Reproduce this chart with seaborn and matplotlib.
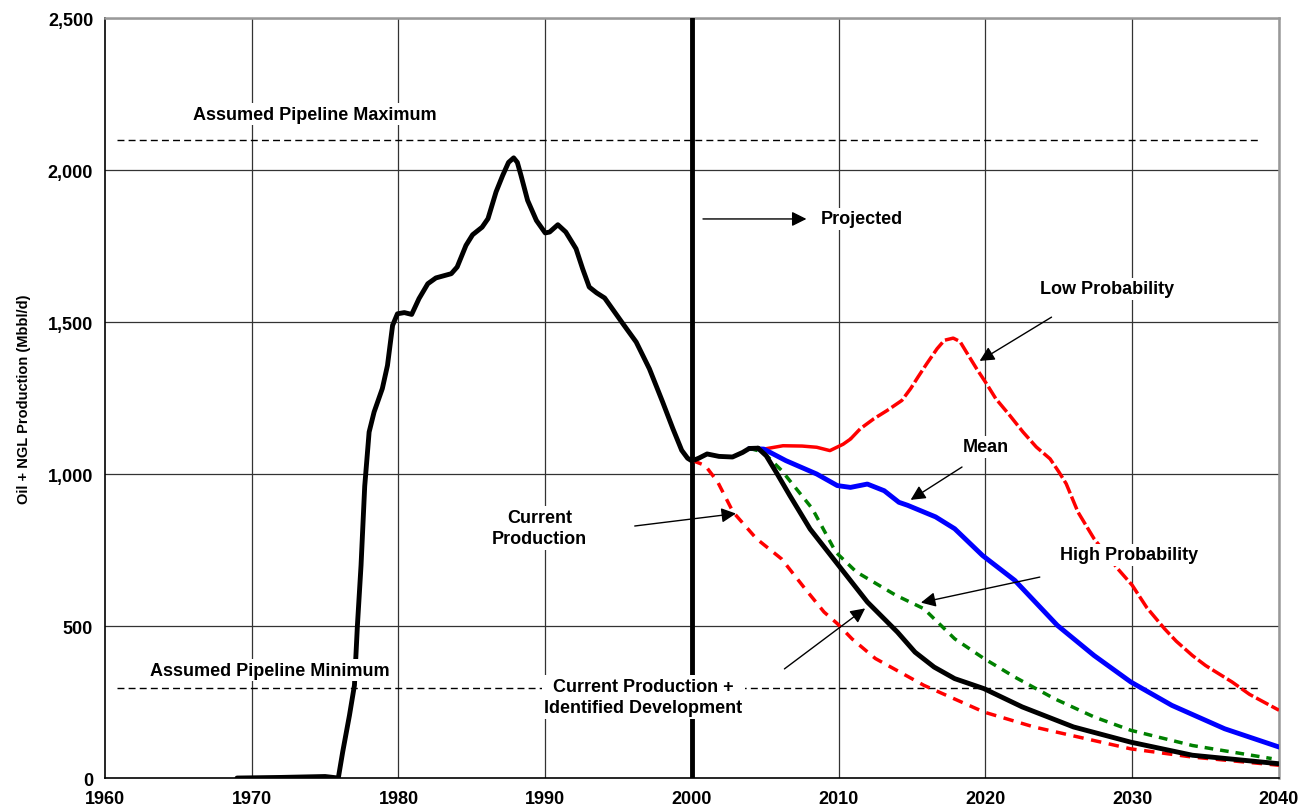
import numpy as np
import pandas as pd
import matplotlib
matplotlib.use("Agg")
import matplotlib.pyplot as plt
import seaborn as sns
from matplotlib.ticker import MultipleLocator, StrMethodFormatter

# ── data ──────────────────────────────────────────────────────────────────
hist_year = [1969, 1972, 1975, 1975.9, 1976.2, 1976.66, 1977.0, 1977.2, 1977.45, 1977.7,
             1978.0, 1978.34, 1978.9, 1979.25, 1979.6, 1979.93, 1980.4, 1980.9, 1981.4,
             1982.0, 1982.55, 1983.6, 1984.0, 1984.6, 1985.05, 1985.7, 1986.1, 1986.65,
             1987.1, 1987.5, 1987.85, 1988.1, 1988.35, 1988.8, 1989.4, 1990.0, 1990.3, 1990.86,
             1991.4, 1992.1, 1992.55, 1993.0, 1993.5, 1994.05, 1995.3, 1996.2, 1997.1,
             1998.0, 1998.7, 1999.3, 1999.7, 2000.0, 2000.46, 2001.03, 2001.84, 2002.76, 2003.45,
             2003.9, 2004.5]
hist_prod = [0, 2, 5, 0, 86, 206, 305, 500, 700, 960,
             1138, 1204, 1281, 1357, 1489, 1527, 1531, 1525, 1577,
             1626, 1645, 1659, 1681, 1752, 1787, 1812, 1840, 1928,
             1982, 2025, 2040, 2025, 1982, 1900, 1834, 1793, 1796, 1820,
             1796, 1741, 1675, 1615, 1596, 1579, 1494, 1434, 1346,
             1237, 1149, 1078, 1052, 1043, 1052, 1066, 1058, 1056, 1071,
             1084, 1085]

# current production + identified development (black)
dev_year = [2004.5, 2005.06, 2005.75, 2006.67, 2008.05, 2009.9, 2011.95, 2014.0, 2015.2,
            2016.5, 2017.9, 2019.9, 2022.5, 2026.0, 2029.9, 2034.1, 2040]
dev_prod = [1085, 1060, 1005, 929, 819, 705, 579, 480, 414,
            365, 327, 294, 234, 168, 118, 75, 47]

# mean (blue)
mean_year = [2003.9, 2004.9, 2006.4, 2008.5, 2009.9, 2010.8, 2011.95, 2013.1, 2014.1,
             2014.7, 2016.6, 2017.9, 2019.8, 2022.0, 2024.9, 2027.4, 2029.9, 2032.7,
             2036.3, 2040]
mean_prod = [1084, 1082, 1044, 1000, 962, 956, 967, 945, 907,
             897, 859, 820, 732, 650, 502, 403, 316, 239,
             162, 102]

# high probability (green dashed)
high_year = [2003.9, 2004.85, 2006.1, 2007.1, 2008.2, 2009.8, 2011.2, 2013.9, 2015.8,
             2017.9, 2019.9, 2022.0, 2024.7, 2027.4, 2029.9, 2034.1, 2039.5]
high_prod = [1085, 1072, 1012, 952, 886, 743, 678, 601, 557,
             458, 393, 332, 261, 201, 157, 107, 64]

# low probability (red)
low_year = [2004.9, 2006.2, 2007.5, 2008.5, 2009.4, 2010.3, 2010.8, 2011.47, 2012.4,
            2013.3, 2014.3, 2014.9, 2015.4, 2016.0, 2016.7, 2017.2, 2017.8, 2018.26,
            2018.7, 2019.4, 2020.07, 2020.7, 2021.65, 2022.56, 2023.46, 2024.4, 2025.0,
            2025.5, 2026.3, 2027.4, 2029.0, 2030.0, 2031.0, 2032.2, 2033.0, 2034.1,
            2035.0, 2036.8, 2038.0, 2040]
low_prod = [1082, 1093, 1092, 1088, 1077, 1098, 1115, 1149, 1182,
            1209, 1242, 1281, 1319, 1363, 1412, 1440, 1447, 1436,
            1401, 1346, 1297, 1248, 1193, 1138, 1089, 1050, 1007,
            968, 875, 787, 689, 634, 560, 491, 450, 403,
            370, 316, 275, 223]

# current production decline (red dashed)
cur_year = [2000, 2000.9, 2001.75, 2002.8, 2004.4, 2006.1, 2007.7, 2009.0, 2009.9,
            2010.9, 2012.5, 2015.8, 2019.9, 2023.3, 2029.9, 2034.1, 2040]
cur_prod = [1045, 1028, 974, 875, 787, 721, 623, 546, 508,
            458, 393, 305, 217, 168, 96, 69, 42]

pipeline_max = 2100
pipeline_min = 295
year_projected = 2000

# ── figure ────────────────────────────────────────────────────────────────
sns.set_style("white")
plt.rcParams["font.family"] = ["Liberation Sans", "DejaVu Sans"]
plt.rcParams["font.weight"] = "bold"
for key in ["text.color", "axes.labelcolor", "xtick.color", "ytick.color"]:
    plt.rcParams[key] = "black"
plt.rcParams["lines.solid_joinstyle"] = "round"
plt.rcParams["lines.solid_capstyle"] = "round"
plt.rcParams["lines.dash_joinstyle"] = "round"

fig = plt.figure(figsize=(12.99, 8.12), dpi=100)
ax = fig.add_axes([0.0808, 0.0406, 0.9038, 0.936])

grid_kw = dict(color="#333333", lw=0.9, zorder=0)
for yv in range(500, 2501, 500):
    ax.axhline(yv, **grid_kw)
for xv in range(1970, 2041, 10):
    ax.axvline(xv, **grid_kw)

# pipeline limits
ax.plot([1960.8, 2038.7], [pipeline_max] * 2, color="black", lw=1, ls=(0, (5, 3)), zorder=2)
ax.plot([1960.8, 2038.7], [pipeline_min] * 2, color="black", lw=1, ls=(0, (5, 3)), zorder=2)

# projection boundary
ax.plot([year_projected] * 2, [0, 2500], color="black", lw=3.5, zorder=3)

sns.lineplot(x=cur_year, y=cur_prod, color="red", lw=2.5, ax=ax, zorder=4,
             linestyle=(0, (3, 2.2)))
n_solid = low_year.index(2010.8) + 1
sns.lineplot(x=low_year[:n_solid], y=low_prod[:n_solid], color="red", lw=2.5, ax=ax, zorder=4)
sns.lineplot(x=low_year[n_solid - 1:], y=low_prod[n_solid - 1:], color="red", lw=2.5, ax=ax,
             zorder=4, linestyle=(0, (4, 1)))
sns.lineplot(x=mean_year, y=mean_prod, color="blue", lw=3.5, ax=ax, zorder=5)
sns.lineplot(x=high_year, y=high_prod, color="green", lw=2.5, ax=ax, zorder=6,
             linestyle=(0, (2.5, 2)))
sns.lineplot(x=dev_year, y=dev_prod, color="black", lw=3.5, ax=ax, zorder=7)
sns.lineplot(x=hist_year, y=hist_prod, color="black", lw=3.5, ax=ax, zorder=7)

# ── annotations ───────────────────────────────────────────────────────────
box = dict(facecolor="white", edgecolor="none", pad=2)
txt_kw = dict(fontsize=13, fontweight="bold", ha="center", va="center", bbox=box, zorder=8,
              linespacing=1.35, color="black")
arrow = dict(arrowstyle="-|>", color="black", lw=1, mutation_scale=22, shrinkA=0, shrinkB=0)

ax.text(1974.3, 2184, "Assumed Pipeline Maximum", **txt_kw)
ax.text(1971.2, 355, "Assumed Pipeline Minimum", **txt_kw)
ax.text(2011.6, 1839, "Projected", **txt_kw)
ax.annotate("", xy=(2007.8, 1839), xytext=(2000.75, 1839), arrowprops=arrow, zorder=8)
ax.text(2028.3, 1609, "Low Probability", **txt_kw)
ax.annotate("", xy=(2019.6, 1372), xytext=(2024.5, 1516), arrowprops=arrow, zorder=8)
ax.text(2020.0, 1089, "Mean", **txt_kw)
ax.annotate("", xy=(2014.9, 915), xytext=(2018.4, 1023), arrowprops=arrow, zorder=8)
ax.text(1989.6, 822, "Current\nProduction", **txt_kw)
ax.annotate("", xy=(2003.0, 870), xytext=(1996.1, 829), arrowprops=arrow, zorder=8)
ax.text(2029.8, 734, "High Probability", **txt_kw)
ax.annotate("", xy=(2015.6, 577), xytext=(2023.7, 661), arrowprops=arrow, zorder=8)
ax.text(1996.7, 266, "Current Production +\nIdentified Development", **txt_kw)
ax.annotate("", xy=(2011.8, 558), xytext=(2006.3, 359), arrowprops=arrow, zorder=8)

# ── axes ──────────────────────────────────────────────────────────────────
ax.set_xlim(1960, 2040)
ax.set_ylim(0, 2500)
ax.xaxis.set_major_locator(MultipleLocator(10))
ax.xaxis.set_minor_locator(MultipleLocator(1))
ax.yaxis.set_major_locator(MultipleLocator(500))
ax.yaxis.set_minor_locator(MultipleLocator(100))
ax.yaxis.set_major_formatter(StrMethodFormatter("{x:,.0f}"))
ax.tick_params(axis="both", which="major", direction="out", length=5, width=1,
               labelsize=13, color="black")
ax.tick_params(axis="both", which="minor", direction="in", length=4, width=1, color="black")
for lab in ax.get_xticklabels() + ax.get_yticklabels():
    lab.set_fontweight("bold")
ax.set_ylabel("Oil + NGL Production (Mbbl/d)", fontsize=10.5, fontweight="bold", labelpad=12)
ax.set_xlabel("")

for side in ["left", "bottom"]:
    ax.spines[side].set_color("black")
    ax.spines[side].set_linewidth(1.2)
for side in ["top", "right"]:
    ax.spines[side].set_color("#999999")
    ax.spines[side].set_linewidth(1.8)

fig.savefig("out.png", dpi=100)
